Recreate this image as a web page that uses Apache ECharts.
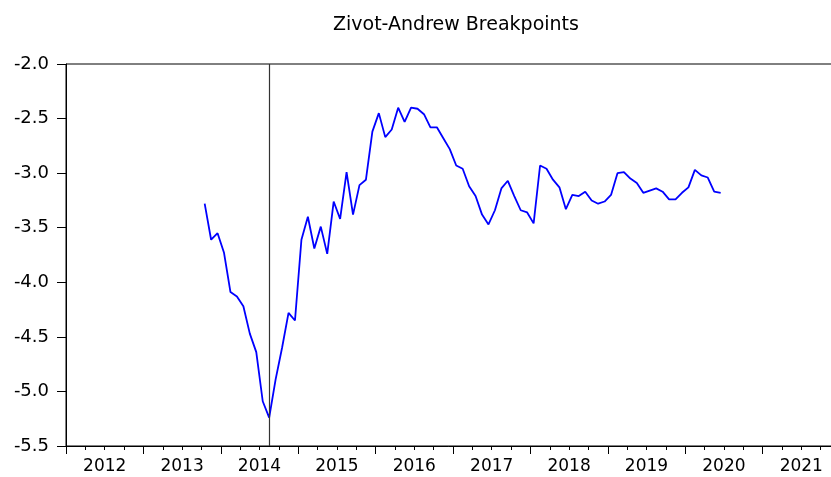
<!DOCTYPE html>
<html>
<head>
    <meta charset="utf-8">
    <title>Zivot-Andrew Breakpoints</title>
    <script src="https://cdn.jsdelivr.net/npm/echarts@6/dist/echarts.min.js"></script>
    <style>
        html, body { margin: 0; padding: 0; background: #fff; }
        #chart { width: 831px; height: 477px; }
    </style>
</head>
<body>
<div id="chart"></div>
<script>
    // monthly observations, first one is 2013M10
    var firstObs = [2013, 10];
    var stats = [
        -3.28, -3.61, -3.55,
        -3.73, -4.09, -4.13, -4.22, -4.47, -4.64, -5.09, -5.24, -4.89, -4.60, -4.28, -4.35,
        -3.61, -3.40, -3.69, -3.49, -3.74, -3.26, -3.42, -2.99, -3.38, -3.11, -3.06, -2.62,
        -2.45, -2.67, -2.60, -2.40, -2.53, -2.40, -2.41, -2.46, -2.58, -2.58, -2.68, -2.78,
        -2.93, -2.96, -3.12, -3.21, -3.38, -3.47, -3.34, -3.14, -3.07, -3.21, -3.34, -3.36,
        -3.46, -2.93, -2.96, -3.06, -3.13, -3.33, -3.20, -3.21, -3.17, -3.25, -3.28, -3.26,
        -3.20, -3.00, -2.99, -3.05, -3.09, -3.18, -3.16, -3.14, -3.17, -3.24, -3.24, -3.18,
        -3.13, -2.97, -3.02, -3.04, -3.17, -3.18
    ];
    var years = ['2012', '2013', '2014', '2015', '2016', '2017', '2018', '2019', '2020', '2021'];
    var breakDate = [2014, 8];
    var yTicks = [-5.5, -5.0, -4.5, -4.0, -3.5, -3.0, -2.5, -2.0];

    var baseYear = +years[0];
    // months since Jan of first year, plotted at mid-month
    function monthPos(y, m) { return (y - baseYear) * 12 + (m - 1) + 0.5; }

    var lineData = [];
    for (var i = 0; i < stats.length; i++) {
        var y = firstObs[0], m = firstObs[1] + i;
        y += Math.floor((m - 1) / 12);
        m = (m - 1) % 12 + 1;
        lineData.push([monthPos(y, m), stats[i]]);
    }

    var font = 'DejaVu Sans';
    var chart = echarts.init(document.getElementById('chart'));
    var option = {
        backgroundColor: '#fff',
        animation: false,
        title: {
            text: 'Zivot-Andrew Breakpoints',
            left: 328,
            top: 11,
            textStyle: { fontFamily: font, fontSize: 19, fontWeight: 'normal', color: '#000' }
        },
        grid: {
            left: 66, top: 64, bottom: 31, right: -9,
            outerBoundsMode: 'none',
            containLabel: false,
            show: true, borderColor: '#000', borderWidth: 1
        },
        xAxis: [{
            type: 'value',
            min: 0, max: years.length * 12, interval: 12,
            position: 'bottom',
            axisLine: { lineStyle: { color: '#000', width: 1 } },
            axisTick: { show: true, length: 8, lineStyle: { color: '#000' } },
            minorTick: { show: true, splitNumber: 4, length: 4, lineStyle: { color: '#000' } },
            axisLabel: { show: false },
            splitLine: { show: false }
        }, {
            // year labels centred between the year ticks
            type: 'value',
            min: 0, max: years.length * 12, interval: 6,
            position: 'bottom',
            axisLine: { show: false },
            axisTick: { show: false },
            splitLine: { show: false },
            axisLabel: {
                margin: 12,
                fontFamily: font, fontSize: 17, color: '#000',
                formatter: function (v) {
                    return v % 12 === 6 ? years[(v - 6) / 12] : '';
                }
            }
        }],
        yAxis: {
            type: 'value',
            min: yTicks[0], max: yTicks[yTicks.length - 1], interval: 0.5,
            axisLine: { show: true, lineStyle: { color: '#000', width: 1 } },
            axisTick: { show: true, length: 9, lineStyle: { color: '#000' } },
            splitLine: { show: false },
            axisLabel: {
                margin: 17,
                fontFamily: font, fontSize: 18, color: '#000',
                formatter: function (v) { return v.toFixed(1); }
            }
        },
        series: [{
            type: 'line',
            xAxisIndex: 0,
            data: lineData,
            showSymbol: false,
            lineStyle: { color: '#0000ff', width: 1.8 },
            markLine: {
                silent: true,
                symbol: 'none',
                label: { show: false },
                lineStyle: { color: '#333', width: 1.2, type: 'solid' },
                data: [{ xAxis: monthPos(breakDate[0], breakDate[1]) }]
            },
            z: 3
        }]
    };
    chart.setOption(option);
</script>
</body>
</html>
